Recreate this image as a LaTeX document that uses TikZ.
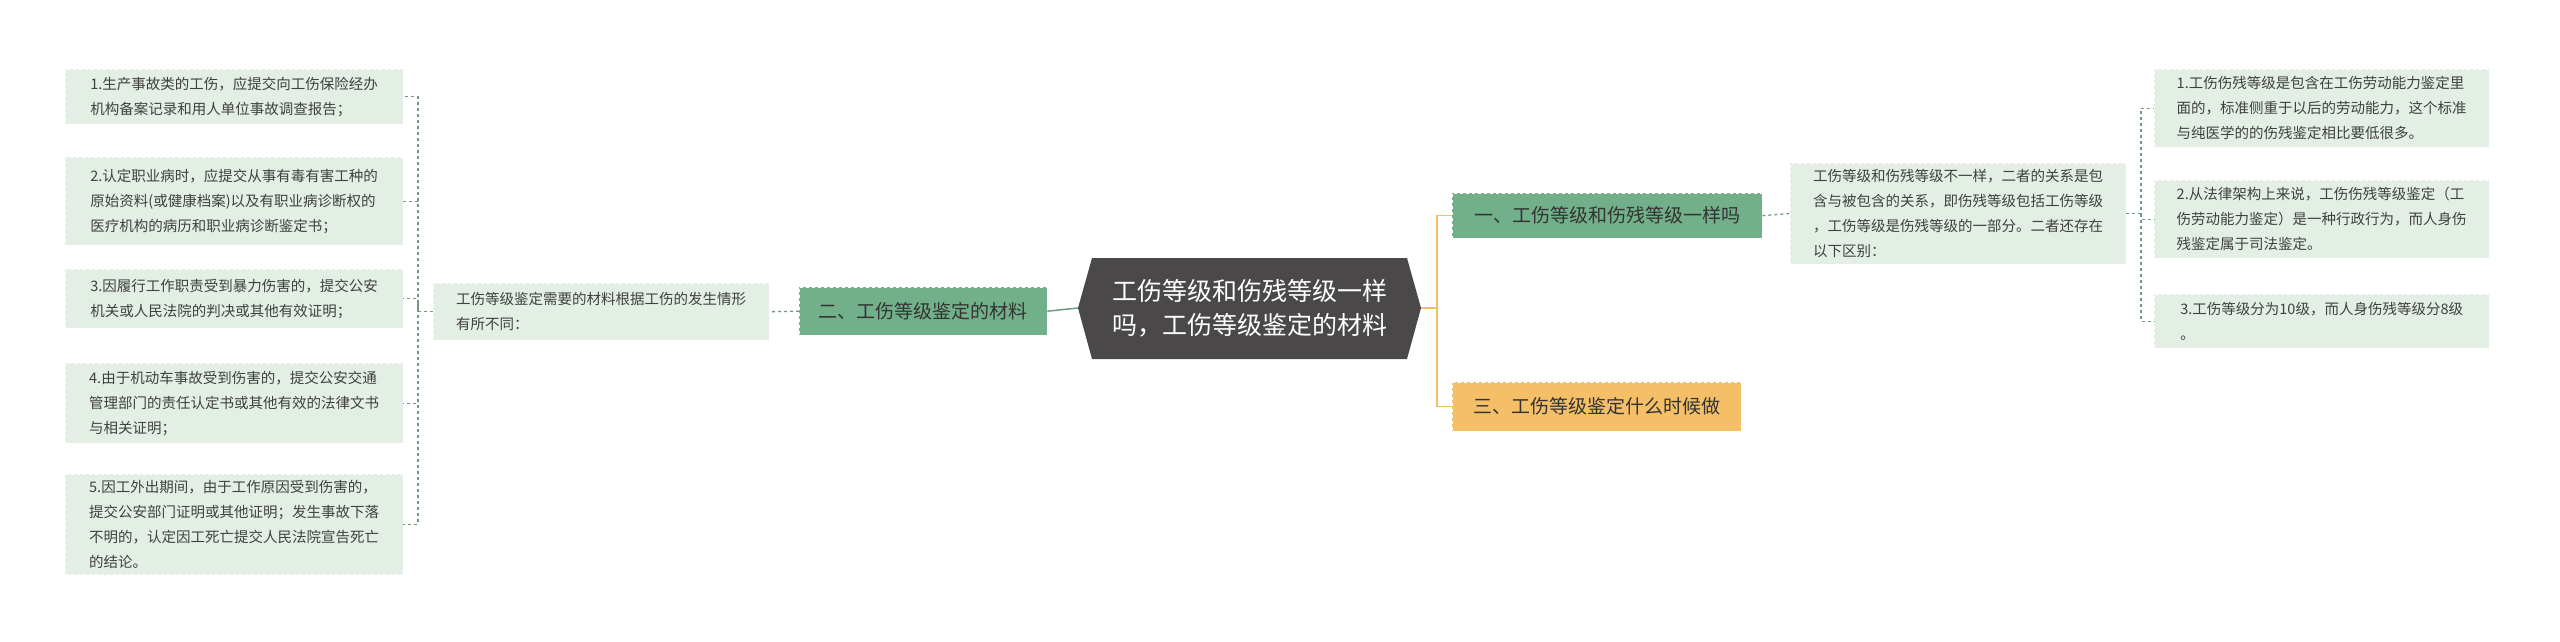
\documentclass[tikz,border=0pt]{standalone}
\usepackage{fontspec}
\setmainfont{Noto Sans CJK SC}
\begin{document}
\begin{tikzpicture}[x=1pt,y=-1pt,
 leaf/.style={fill=leafc,draw=white,dashed,anchor=north west,inner xsep=9pt,inner ysep=6pt,align=left,font=\fontsize{14.5}{25}\selectfont,text=black!75},
 br/.style={anchor=north west,inner sep=0pt,align=center,font=\fontsize{19}{24}\selectfont,text=black!80},
 con/.style={draw=linec,dashed,line width=1.3pt}]
\definecolor{leafc}{HTML}{E3EEE5}
\definecolor{linec}{HTML}{6E9C82}
\definecolor{grn}{HTML}{72B08A}
\definecolor{org}{HTML}{F4BF67}
\definecolor{dark}{HTML}{4A4848}
\useasboundingbox (0,0) rectangle (2560,642);
% center
\fill[dark] (1078,308) -- (1092,258) -- (1407,258) -- (1421,308) -- (1407,359) -- (1092,359) -- cycle;
\node[align=center,text=white,font=\fontsize{25}{34}\selectfont] (c) at (1250,308) {工伤等级和伤残等级一样\\吗，工伤等级鉴定的材料};
\coordinate (cw) at (1078,308); \coordinate (ce) at (1421,308);
% branches
\node[br,fill=grn,draw=white,dashed,minimum width=248pt,minimum height=48pt] (b2) at (799,287) {二、工伤等级鉴定的材料};
\node[br,fill=grn,draw=white,dashed,minimum width=310pt,minimum height=45pt] (b1) at (1452,193) {一、工伤等级和伤残等级一样吗};
\node[br,fill=org,draw=white,dashed,minimum width=289pt,minimum height=49pt] (b3) at (1452,382) {三、工伤等级鉴定什么时候做};
% mid nodes
\node[leaf,minimum width=336pt,minimum height=57pt] (m2) at (433,283) {工伤等级鉴定需要的材料根据工伤的发生情形\\有所不同：};
\node[leaf,minimum width=336pt,minimum height=98pt] (m1) at (1790,163) {工伤等级和伤残等级不一样，二者的关系是包\\含与被包含的关系，即伤残等级包括工伤等级\\，工伤等级是伤残等级的一部分。二者还存在\\以下区别：};
% left leaves
\node[leaf,minimum width=338pt,minimum height=55pt] (l1) at (65,69) {1.生产事故类的工伤，应提交向工伤保险经办\\机构备案记录和用人单位事故调查报告；};
\node[leaf,minimum width=338pt,minimum height=88pt] (l2) at (65,157) {2.认定职业病时，应提交从事有毒有害工种的\\原始资料(或健康档案)以及有职业病诊断权的\\医疗机构的病历和职业病诊断鉴定书；};
\node[leaf,minimum width=338pt,minimum height=59pt] (l3) at (65,269) {3.因履行工作职责受到暴力伤害的，提交公安\\机关或人民法院的判决或其他有效证明；};
\node[leaf,minimum width=338pt,minimum height=80pt] (l4) at (65,363) {4.由于机动车事故受到伤害的，提交公安交通\\管理部门的责任认定书或其他有效的法律文书\\与相关证明；};
\node[leaf,minimum width=338pt,minimum height=99pt] (l5) at (65,474) {5.因工外出期间，由于工作原因受到伤害的，\\提交公安部门证明或其他证明；发生事故下落\\不明的，认定因工死亡提交人民法院宣告死亡\\的结论。};
% right leaves
\node[leaf,minimum width=335pt,minimum height=78pt] (r1) at (2154,69) {1.工伤伤残等级是包含在工伤劳动能力鉴定里\\面的，标准侧重于以后的劳动能力，这个标准\\与纯医学的的伤残鉴定相比要低很多。};
\node[leaf,minimum width=335pt,minimum height=78pt] (r2) at (2154,180) {2.从法律架构上来说，工伤伤残等级鉴定（工\\伤劳动能力鉴定）是一种行政行为，而人身伤\\残鉴定属于司法鉴定。};
\node[leaf,minimum width=335pt,minimum height=54pt] (r3) at (2154,294) {3.工伤等级分为10级，而人身伤残等级分8级\\。};
% connectors
\draw[draw=linec,line width=1.5pt] (cw) -- (b2.east);
\draw[draw=org,line width=1.5pt] (ce) -- (1437,308) |- (b1.west);
\draw[draw=org,line width=1.5pt] (1437,308) |- (b3.west);
\draw[con] (b2.west) -- (m2.east);
\draw[con] (b1.east) -- (m1.west);
\foreach \n in {l1,l2,l3,l4,l5} \draw[con] (m2.west) -| (418,300) |- (\n.east);
\foreach \n in {r1,r2,r3} \draw[con] (m1.east) -| (2141,212) |- (\n.west);
\end{tikzpicture}
\end{document}
